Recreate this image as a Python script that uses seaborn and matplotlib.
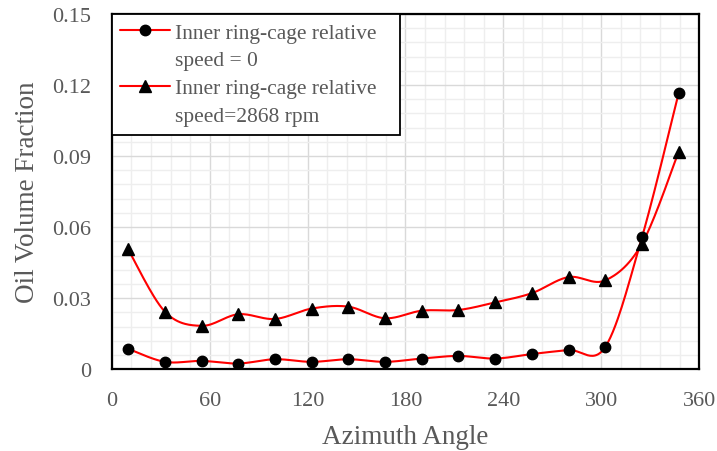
import matplotlib
matplotlib.use('Agg')
import matplotlib.pyplot as plt
from matplotlib.lines import Line2D
from matplotlib.ticker import MultipleLocator
import numpy as np
import pandas as pd
import seaborn as sns

# azimuth positions of the sampled points (deg)
angles = [10, 32.5, 55, 77.5, 100, 122.5, 145, 167.5,
          190, 212.5, 235, 257.5, 280, 302.5, 325, 347.5]

# oil volume fraction, inner ring-cage relative speed = 0
oil_speed0 = [0.0086, 0.0031, 0.0035, 0.0024, 0.0042, 0.0031, 0.0042, 0.0031,
              0.0045, 0.0056, 0.0045, 0.0064, 0.0081, 0.0094, 0.0557, 0.1166]

# oil volume fraction, inner ring-cage relative speed = 2868 rpm
oil_speed2868 = [0.0506, 0.0243, 0.0183, 0.0232, 0.0212, 0.0256, 0.0264, 0.0215,
                 0.0247, 0.0250, 0.0282, 0.0321, 0.0389, 0.0375, 0.0530, 0.0918]

label_lines = [('Inner ring-cage relative', 'speed = 0'),
               ('Inner ring-cage relative', 'speed=2868 rpm')]
x_ticks = [0, 60, 120, 180, 240, 300, 360]
y_ticks = [0, 0.03, 0.06, 0.09, 0.12, 0.15]
y_tick_labels = ['0', '0.03', '0.06', '0.09', '0.12', '0.15']


def smooth_curve(xs, ys, n=30):
    # excel-like smoothed line: bezier segments with catmull-rom control points
    p = np.column_stack([xs, ys]).astype(float)
    p = np.vstack([p[0], p, p[-1]])
    t = np.linspace(0, 1, n)[:, None]
    out = []
    for i in range(1, len(p) - 2):
        p0, p1 = p[i], p[i + 1]
        c1 = p0 + (p[i + 1] - p[i - 1]) / 6
        c2 = p1 - (p[i + 2] - p[i]) / 6
        seg = ((1 - t) ** 3) * p0 + 3 * ((1 - t) ** 2) * t * c1 \
            + 3 * (1 - t) * t ** 2 * c2 + t ** 3 * p1
        out.append(seg if i == 1 else seg[1:])
    out = np.vstack(out)
    return pd.DataFrame({'x': out[:, 0], 'y': out[:, 1]})


sns.set_theme(style='white')
plt.rcParams['font.family'] = ['Liberation Serif', 'DejaVu Serif']

fig, ax = plt.subplots(figsize=(7.17, 4.52), dpi=100)
fig.subplots_adjust(left=0.156, right=0.975, bottom=0.181, top=0.967)

red = '#ff0000'
text_grey = '#595959'
marker_sizes = {'o': 7.5, '^': 9}

for vals, marker in [(oil_speed0, 'o'), (oil_speed2868, '^')]:
    curve = smooth_curve(angles, vals)
    sns.lineplot(data=curve, x='x', y='y', sort=False, estimator=None,
                 color=red, linewidth=1.5, ax=ax, zorder=3)
    df = pd.DataFrame({'angle': angles, 'oil': vals})
    ax.plot(df['angle'], df['oil'], linestyle='none', marker=marker,
            markersize=marker_sizes[marker], color='black', zorder=4)

ax.set_xlim(0, 360)
ax.set_ylim(0, 0.15)
ax.set_xticks(x_ticks)
ax.set_xticklabels([str(v) for v in x_ticks])
ax.set_yticks(y_ticks)
ax.set_yticklabels(y_tick_labels)
ax.xaxis.set_minor_locator(MultipleLocator(12))
ax.yaxis.set_minor_locator(MultipleLocator(0.006))
ax.grid(which='major', color='#d9d9d9', linewidth=1.0)
ax.grid(which='minor', color='#eeeeee', linewidth=1.0)
ax.set_axisbelow(True)
ax.tick_params(which='both', length=0, labelsize=16, colors=text_grey)
ax.tick_params(axis='x', pad=16)
ax.tick_params(axis='y', pad=15)

for s in ax.spines.values():
    s.set_color('black')
    s.set_linewidth(1.6)

ax.set_xlabel('Azimuth Angle', fontsize=19.5, color=text_grey, labelpad=10)
ax.set_ylabel('Oil Volume Fraction', fontsize=19.5, color=text_grey, labelpad=9)

# legend: handle sits on the first line of each two-line label
handles, texts = [], []
for marker, (first, second) in zip(['o', '^'], label_lines):
    handles.append(Line2D([], [], color=red, linewidth=1.5, marker=marker,
                          markersize=marker_sizes[marker],
                          markerfacecolor='black', markeredgecolor='black'))
    texts.append(first)
    handles.append(Line2D([], [], linestyle='none', marker=None))
    texts.append(second)

leg = ax.legend(handles, texts, loc='upper left', bbox_to_anchor=(0, 1, 0.49, 0),
                mode='expand', borderaxespad=0, fontsize=15.5, frameon=True,
                fancybox=False, framealpha=1, edgecolor='black',
                handlelength=2.3, handletextpad=0.25, labelspacing=0.36,
                borderpad=0.4, labelcolor=text_grey)
leg.get_frame().set_linewidth(1.3)

fig.savefig('out.png', dpi=100)
